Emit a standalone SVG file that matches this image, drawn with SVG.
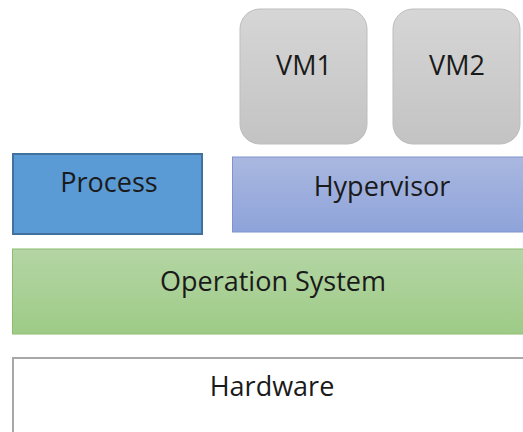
<svg xmlns="http://www.w3.org/2000/svg" width="523" height="432" viewBox="0 0 523 432">
<defs>
<linearGradient id="gVM" x1="0" y1="0" x2="0" y2="1"><stop offset="0" stop-color="#d6d6d6"/><stop offset="1" stop-color="#c3c3c3"/></linearGradient>
<linearGradient id="gHV" x1="0" y1="0" x2="0" y2="1"><stop offset="0" stop-color="#aab8e0"/><stop offset="1" stop-color="#8ea3da"/></linearGradient>
<linearGradient id="gOS" x1="0" y1="0" x2="0" y2="1"><stop offset="0" stop-color="#b4d5a4"/><stop offset="1" stop-color="#9ecb87"/></linearGradient>
</defs>
<style>
text{font-family:"Open Sans","Noto Sans",sans-serif;font-size:27px;fill:#1a1a1a;text-anchor:middle}
.vm{fill:url(#gVM);stroke:#bdbdbd;stroke-width:1}
</style>
<rect width="523" height="432" fill="#ffffff"/>
<g id="vm1"><rect class="vm" x="240" y="9" width="127" height="135" rx="20"/><text x="304" y="75">VM1</text></g>
<g id="vm2"><rect class="vm" x="393" y="9" width="127" height="135" rx="20"/><text x="457" y="75">VM2</text></g>
<g id="process"><rect x="13" y="154" width="189" height="80" fill="#5b9bd5" stroke="#41719c" stroke-width="2"/><text x="109" y="192">Process</text></g>
<g id="hypervisor"><rect x="232.5" y="157" width="295" height="75" fill="url(#gHV)" stroke="#7f94cf" stroke-width="1"/><text x="382" y="196">Hypervisor</text></g>
<g id="os"><rect x="12.5" y="249" width="515" height="85" fill="url(#gOS)" stroke="#8cbc6e" stroke-width="1"/><text x="273" y="291">Operation System</text></g>
<g id="hardware"><rect x="13" y="358" width="515" height="80" fill="#ffffff" stroke="#a8a8a8" stroke-width="2"/><text x="272" y="396">Hardware</text></g>
<g id="connectors"/>
</svg>
